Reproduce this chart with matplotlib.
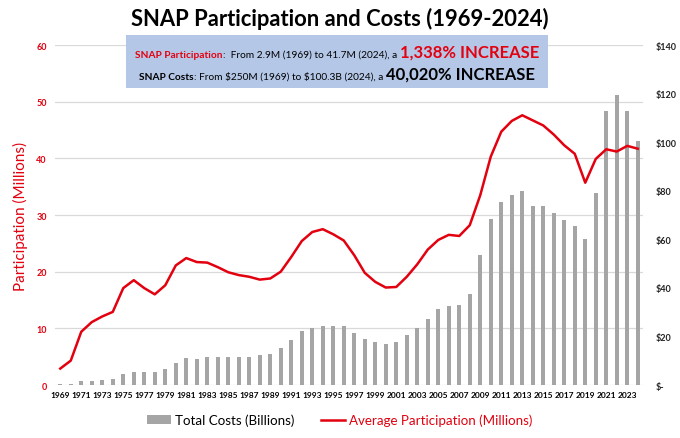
import matplotlib
matplotlib.use("Agg")
import matplotlib.pyplot as plt
from matplotlib.patches import Patch, Rectangle
from matplotlib.lines import Line2D

plt.rcParams['font.family'] = ['Lato', 'DejaVu Sans']

years = list(range(1969, 2025))

# average monthly participation, millions
participation = [2.9, 4.3, 9.4, 11.1, 12.1, 12.9, 17.1, 18.5, 17.1, 16.0,
                 17.6, 21.1, 22.4, 21.7, 21.6, 20.8, 19.9, 19.4, 19.1, 18.6,
                 18.8, 20.0, 22.6, 25.4, 27.0, 27.5, 26.6, 25.5, 22.9, 19.8,
                 18.2, 17.2, 17.3, 19.1, 21.3, 23.9, 25.6, 26.5, 26.3, 28.2,
                 33.5, 40.3, 44.7, 46.6, 47.6, 46.7, 45.8, 44.2, 42.3, 40.8,
                 35.7, 39.9, 41.6, 41.2, 42.2, 41.7]

# total costs, billions of dollars
costs = [0.25, 0.58, 1.5, 1.7, 2.0, 2.6, 4.4, 5.3, 5.3, 5.3,
         6.6, 9.2, 11.1, 10.8, 11.7, 11.4, 11.7, 11.4, 11.4, 12.3,
         12.9, 15.4, 18.5, 22.4, 23.5, 24.4, 24.4, 24.1, 21.3, 18.9,
         17.6, 16.7, 17.6, 20.4, 23.5, 27.2, 31.1, 32.6, 32.9, 37.6,
         53.6, 68.3, 75.4, 78.2, 79.7, 73.8, 73.8, 70.8, 67.9, 65.6,
         60.1, 78.9, 112.9, 119.3, 112.9, 100.3]

left_ticks = [0, 10, 20, 30, 40, 50, 60]
right_ticks = [0, 20, 40, 60, 80, 100, 120, 140]
right_labels = [r'\$-', r'\$20', r'\$40', r'\$60', r'\$80', r'\$100', r'\$120', r'\$140']
xtick_years = years[::2]

RED = '#e3000f'
GREY = '#a5a5a5'

fig = plt.figure(figsize=(6.8, 4.39), dpi=100)
ax = fig.add_axes([0.0809, 0.1207, 0.8647, 0.7745])
ax2 = ax.twinx()
ax3 = ax.twinx()

# grid + left axis
ax.set_ylim(0, 60)
ax.set_yticks(left_ticks)
ax.set_yticklabels([str(t) for t in left_ticks], color=RED, fontsize=6.5, fontweight='bold')
ax.grid(axis='y', color='#d9d9d9', linewidth=0.9)
ax.set_axisbelow(True)
ax.set_ylabel('Participation (Millions)', color=RED, fontsize=11, labelpad=6)
ax.tick_params(axis='y', length=0, pad=6)

# bars on right axis
ax2.bar(years, costs, width=0.4, color=GREY, zorder=2)
ax2.set_ylim(0, 140)
ax2.set_yticks(right_ticks)
ax2.set_yticklabels(right_labels, fontsize=6.5, fontweight='bold', color='#222222')
ax2.tick_params(axis='y', length=0, pad=9)

# line on top
ax3.plot(years, participation, color=RED, linewidth=1.8, zorder=3)
ax3.set_ylim(0, 60)
ax3.set_yticks([])

for a in (ax, ax2, ax3):
    a.set_xlim(1968.5, 2024.5)
    for s in a.spines.values():
        s.set_visible(False)

ax.set_xticks(xtick_years)
ax.set_xticklabels([str(y) for y in xtick_years], fontsize=6, fontweight='bold')
ax.tick_params(axis='x', length=0, pad=4)

# title
fig.text(0.5, 0.957, 'SNAP Participation and Costs (1969-2024)', ha='center', va='center',
         fontsize=15.8, fontweight='bold', color='black')

# annotation box
fig.patches.append(Rectangle((126 / 680, 1 - 89 / 439), 422 / 680, 53 / 439,
                             transform=fig.transFigure, facecolor='#b4c7e7',
                             edgecolor='none', zorder=0))

renderer = fig.canvas.get_renderer()


def draw_line(y_px, pieces, cx_px=337):
    texts = []
    total = 0
    for s, color, size, weight in pieces:
        t = fig.text(0, 1 - y_px / 439, s, color=color, fontsize=size, fontweight=weight,
                     ha='left', va='baseline', parse_math=False)
        w = t.get_window_extent(renderer).width
        texts.append((t, w))
        total += w
    x = cx_px - total / 2
    for t, w in texts:
        t.set_x(x / 680)
        x += w


draw_line(58, [('SNAP Participation', RED, 7.3, 'bold'),
               (':  From 2.9M (1969) to 41.7M (2024), a ', 'black', 7.3, 'normal'),
               ('1,338% INCREASE', RED, 12, 'bold')])
draw_line(80, [('SNAP Costs', 'black', 7.3, 'bold'),
               (': From $250M (1969) to $100.3B (2024), a ', 'black', 7.3, 'normal'),
               ('40,020% INCREASE', 'black', 12, 'bold')])

handles = [Patch(facecolor=GREY, edgecolor='none'),
           Line2D([0], [0], color=RED, linewidth=1.8)]
leg = fig.legend(handles, ['Total Costs (Billions)', 'Average Participation (Millions)'],
                 loc='center', bbox_to_anchor=(0.5, 1 - 421 / 439), ncol=2, frameon=False,
                 fontsize=9.6, handlelength=1.8, handleheight=0.6, columnspacing=2.0,
                 handletextpad=0.3)
leg.get_texts()[1].set_color(RED)

fig.savefig('out.png', dpi=100)
